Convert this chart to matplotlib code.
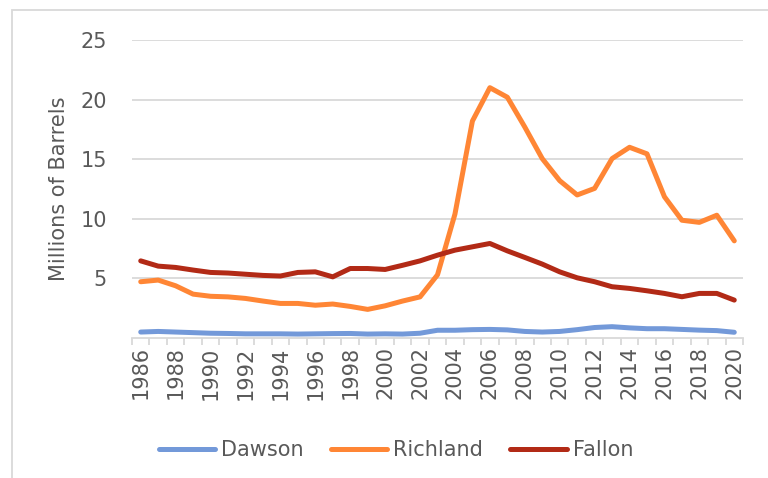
import matplotlib.pyplot as plt
from matplotlib.patches import Rectangle

# --- DATOS ---
anios = list(range(1986, 2021))
dawson = [0.50, 0.55, 0.50, 0.45, 0.40, 0.38, 0.35, 0.35, 0.35, 0.33, 0.35, 0.37,
          0.38, 0.33, 0.35, 0.33, 0.40, 0.65, 0.65, 0.70, 0.72, 0.68, 0.55, 0.50,
          0.55, 0.70, 0.88, 0.95, 0.85, 0.78, 0.78, 0.72, 0.66, 0.62, 0.48]
richland = [4.72, 4.86, 4.38, 3.68, 3.50, 3.45, 3.32, 3.10, 2.90, 2.90, 2.75, 2.85,
            2.65, 2.40, 2.70, 3.10, 3.45, 5.30, 10.40, 18.20, 21.00, 20.20, 17.70, 15.05,
            13.20, 12.00, 12.55, 15.05, 16.00, 15.45, 11.85, 9.88, 9.70, 10.30, 8.15]
fallon = [6.47, 6.03, 5.92, 5.70, 5.50, 5.45, 5.35, 5.25, 5.20, 5.50, 5.55, 5.13,
          5.83, 5.83, 5.75, 6.10, 6.47, 6.95, 7.37, 7.65, 7.93, 7.31, 6.76, 6.20,
          5.55, 5.05, 4.72, 4.30, 4.16, 3.96, 3.74, 3.46, 3.74, 3.74, 3.18]
ticks_y = [5, 10, 15, 20, 25]

series = [('Dawson', dawson, '#7399d9'),
          ('Richland', richland, '#ff8635'),
          ('Fallon', fallon, '#b22a16')]

GRIS = '#d9d9d9'
TEXTO = '#595959'

fig = plt.figure(figsize=(7.68, 4.78), dpi=100)
ax = fig.add_axes([132 / 768, 1 - 338 / 478, 611 / 768, 298 / 478])

# marco del gráfico
fig.patches.append(Rectangle((12 / 768, -0.01), 1.0, 1 - 10 / 478 + 0.01,
                             transform=fig.transFigure, fill=False,
                             edgecolor=GRIS, linewidth=1.3))

x = list(range(len(anios)))
for nombre, valores, color in series:
    ax.plot(x, valores, color=color, linewidth=3.6, label=nombre,
            solid_capstyle='round', solid_joinstyle='round')

ax.set_xlim(-0.5, len(anios) - 0.5)
ax.set_ylim(0, 25)
ax.set_yticks(ticks_y)
ax.grid(axis='y', color=GRIS, linewidth=1.3)
ax.set_axisbelow(True)

for lado in ['top', 'right', 'left']:
    ax.spines[lado].set_visible(False)
ax.spines['bottom'].set_color(GRIS)
ax.spines['bottom'].set_linewidth(1.3)

# etiquetas cada dos años, marcas entre categorías
ax.set_xticks(x[::2])
ax.set_xticklabels([str(a) for a in anios[::2]], rotation=90)
ax.set_xticks([i - 0.5 for i in range(len(anios) + 1)], minor=True)
ax.tick_params(axis='x', which='major', length=0, pad=6, labelsize=15, labelcolor=TEXTO)
ax.tick_params(axis='x', which='minor', length=5, color=GRIS, width=1.3, direction='out')
ax.tick_params(axis='y', length=0, pad=18, labelsize=15, labelcolor=TEXTO)

ax.set_ylabel('Millions of Barrels', fontsize=15, color=TEXTO, labelpad=8)

ax.legend(loc='center', bbox_to_anchor=(396 / 768, 1 - 450 / 478),
          bbox_transform=fig.transFigure, ncol=3, frameon=False,
          fontsize=15, labelcolor=TEXTO, handlelength=2.7, handletextpad=0.3,
          columnspacing=1.3)

fig.savefig('out.png', dpi=100)
